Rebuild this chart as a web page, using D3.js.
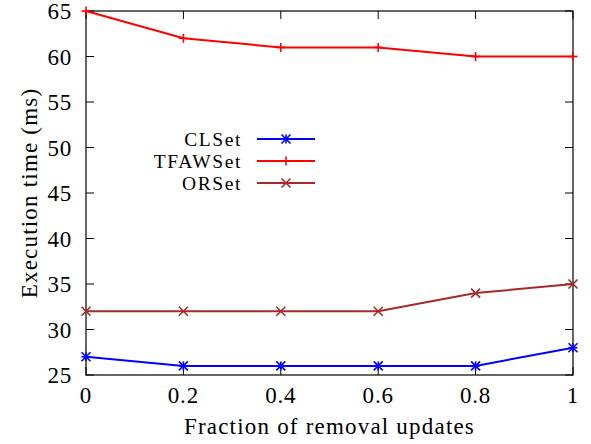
<!DOCTYPE html>
<html><head><meta charset="utf-8">
<script src="https://cdn.jsdelivr.net/npm/d3@7"></script>
<style>body{margin:0;background:#fff}svg{display:block}text{font-family:"Liberation Serif","DejaVu Serif",serif;fill:#000}</style>
</head><body>
<svg id="c" width="591" height="444"></svg>
<script>
const xValues = [0, 0.2, 0.4, 0.6, 0.8, 1];
const clset = [27, 26, 26, 26, 26, 28];
const tfawset = [65, 62, 61, 61, 60, 60];
const orset = [32, 32, 32, 32, 34, 35];
const xTicks = [0, 0.2, 0.4, 0.6, 0.8, 1];
const yTicks = [25, 30, 35, 40, 45, 50, 55, 60, 65];
const seriesNames = ["CLSet", "TFAWSet", "ORSet"];

const series = [
  {name: seriesNames[0], values: clset, color: "#0000ff", marker: "star"},
  {name: seriesNames[1], values: tfawset, color: "#ff0000", marker: "plus"},
  {name: seriesNames[2], values: orset, color: "#a52a2a", marker: "cross"}
];

const svg = d3.select("#c");
const L = 86, R = 573, T = 11, B = 375;
const x = d3.scaleLinear().domain([0, 1]).range([L, R]);
const y = d3.scaleLinear().domain([25, 65]).range([B, T]);
const tl = 8;
const fs = 23;
const ls = "0.8px";

const g = svg.append("g");
xTicks.forEach(t => {
  g.append("line").attr("x1", x(t)).attr("x2", x(t)).attr("y1", B).attr("y2", B - tl).attr("stroke", "#000");
  g.append("line").attr("x1", x(t)).attr("x2", x(t)).attr("y1", T).attr("y2", T + tl).attr("stroke", "#000");
  g.append("text").attr("x", x(t)).attr("y", 403).attr("text-anchor", "middle").attr("font-size", fs).attr("letter-spacing", ls).text(d3.format("")(t));
});
yTicks.forEach(t => {
  g.append("line").attr("x1", L).attr("x2", L + tl).attr("y1", y(t)).attr("y2", y(t)).attr("stroke", "#000");
  g.append("line").attr("x1", R).attr("x2", R - tl).attr("y1", y(t)).attr("y2", y(t)).attr("stroke", "#000");
  g.append("text").attr("x", 72).attr("y", y(t) + 8).attr("text-anchor", "end").attr("font-size", fs).attr("letter-spacing", ls).text(t);
});
g.append("rect").attr("x", L).attr("y", T).attr("width", R - L).attr("height", B - T).attr("fill", "none").attr("stroke", "#000").attr("stroke-width", 1.2);

g.append("text").attr("x", (L + R) / 2).attr("y", 434).attr("text-anchor", "middle").attr("font-size", fs).attr("letter-spacing", "1.2px").text("Fraction of removal updates");
g.append("text").attr("transform", `translate(37,${(T + B) / 2}) rotate(-90)`).attr("text-anchor", "middle").attr("font-size", fs).attr("letter-spacing", "1.2px").text("Execution time (ms)");

function marker(sel, type, cx, cy, color) {
  const s = 4.5;
  const p = [];
  if (type === "plus" || type === "star") { p.push([cx - s, cy, cx + s, cy], [cx, cy - s, cx, cy + s]); }
  if (type === "cross" || type === "star") { p.push([cx - s, cy - s, cx + s, cy + s], [cx - s, cy + s, cx + s, cy - s]); }
  p.forEach(a => sel.append("line").attr("x1", a[0]).attr("y1", a[1]).attr("x2", a[2]).attr("y2", a[3]).attr("stroke", color).attr("stroke-width", 1.6));
}

const line = d3.line().x((d, i) => x(xValues[i])).y(d => y(d));
series.forEach(s => {
  g.append("path").attr("d", line(s.values)).attr("fill", "none").attr("stroke", s.color).attr("stroke-width", 2);
  s.values.forEach((v, i) => marker(g, s.marker, x(xValues[i]), y(v), s.color));
});

series.forEach((s, i) => {
  const ly = 139 + i * 22;
  g.append("text").attr("x", 242).attr("y", ly + 7).attr("text-anchor", "end").attr("font-size", 19.5).attr("letter-spacing", "1.6px").text(s.name);
  g.append("line").attr("x1", 257).attr("x2", 315).attr("y1", ly).attr("y2", ly).attr("stroke", s.color).attr("stroke-width", 2);
  marker(g, s.marker, 286, ly, s.color);
});
</script>
</body></html>
